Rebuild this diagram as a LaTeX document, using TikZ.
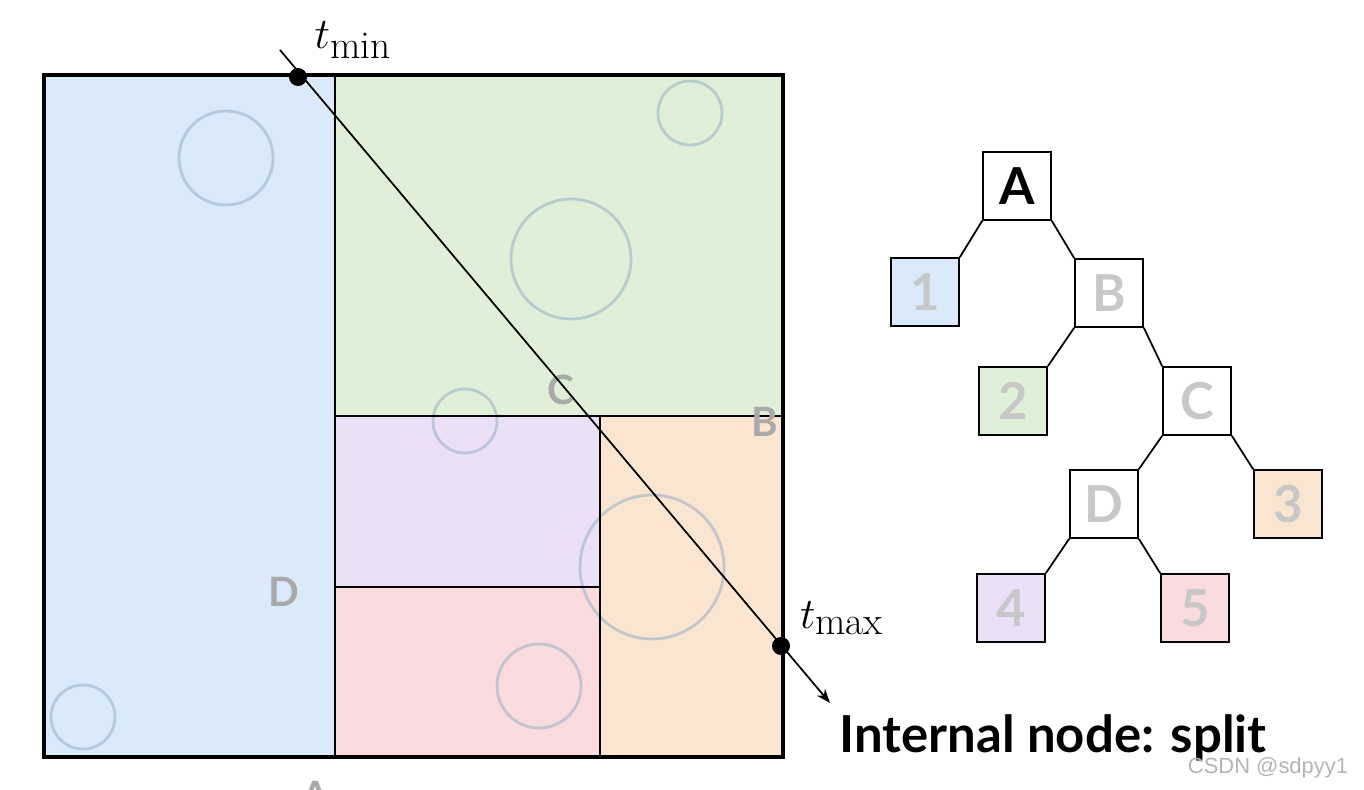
\documentclass[tikz,border=0pt]{standalone}
\usepackage{fontspec}
\newfontfamily\lato{Lato}
\usetikzlibrary{arrows.meta}
\definecolor{cb}{RGB}{219,234,251}
\definecolor{cg}{RGB}{224,240,216}
\definecolor{cp}{RGB}{236,224,247}
\definecolor{cr}{RGB}{250,220,222}
\definecolor{co}{RGB}{250,230,208}
\definecolor{circ}{RGB}{150,175,200}
\definecolor{lg}{RGB}{200,200,200}
\begin{document}
\begin{tikzpicture}[x=0.02cm,y=-0.02cm,
 bub/.style={draw=circ,opacity=0.55,line width=1.6pt},
 reg/.style={font=\lato\bfseries\fontsize{23}{23}\selectfont,text=lg!85!black},
 tn/.style={draw,line width=1pt,minimum size=1.36cm,font=\lato\bfseries\fontsize{29}{29}\selectfont,text=lg},
 tl/.style={font=\fontsize{32}{32}\selectfont},
 ed/.style={line width=1pt}]
\useasboundingbox (0,0) rectangle (1364,790);
\fill[cb] (44,75) rectangle (335,757);
\fill[cg] (335,75) rectangle (783,416);
\fill[cp] (335,416) rectangle (600,587);
\fill[cr] (335,587) rectangle (600,757);
\fill[co] (600,416) rectangle (783,757);
\draw[bub] (226,158) circle (47);
\draw[bub] (690,113) circle (32);
\draw[bub] (571,259) circle (60);
\draw[bub] (465,421) circle (32);
\draw[bub] (652,567) circle (72);
\draw[bub] (539,686) circle (42);
\draw[bub] (83,717) circle (32);
\draw[line width=0.7pt] (335,75) -- (335,757) (335,416) -- (783,416) (600,416) -- (600,757) (335,587) -- (600,587);
\draw[line width=2.6pt] (44,75) rectangle (783,757);
\node[reg] (lc) at (561,390) {C};
\node[reg] (lb) at (765,422) {B};
\node[reg] (ld) at (284,592) {D};
\node[reg,anchor=north] (la) at (316,775) {A};
\coordinate (r0) at (280,50);
\coordinate (r1) at (830,703);
\draw[line width=1pt,-{Stealth[length=8pt]}] (r0) -- (r1);
\fill (298,77) circle (9);
\fill (781,646) circle (9);
\node[tl] (tmin) at (353,40) {$t_{\min}$};
\node[tl] (tmax) at (842,618) {$t_{\max}$};
\node (A) [tn,text=black,fill=white] at (1017,186) {A};
\node (n1) [tn,fill=cb] at (925,292) {1};
\node (B) [tn,fill=white] at (1109,293) {B};
\node (n2) [tn,fill=cg] at (1013,401) {2};
\node (C) [tn,fill=white] at (1197,401) {C};
\node (D) [tn,fill=white] at (1104,504) {D};
\node (n3) [tn,fill=co] at (1288,504) {3};
\node (n4) [tn,fill=cp] at (1011,608) {4};
\node (n5) [tn,fill=cr] at (1195,608) {5};
\draw[ed] (A.south west) -- (n1.north east) (A.south east) -- (B.north west)
 (B.south west) -- (n2.north east) (B.south east) -- (C.north west)
 (C.south west) -- (D.north east) (C.south east) -- (n3.north west)
 (D.south west) -- (n4.north east) (D.south east) -- (n5.north west);
\node (cap) at (1053,738) {\lato\bfseries\fontsize{29}{29}\selectfont Internal node: split};
\node (wm) [text=lg!90!black] at (1268,768) {\fontspec{Liberation Sans}\fontsize{12.5}{12.5}\selectfont CSDN @sdpyy1};
\end{tikzpicture}
\end{document}
